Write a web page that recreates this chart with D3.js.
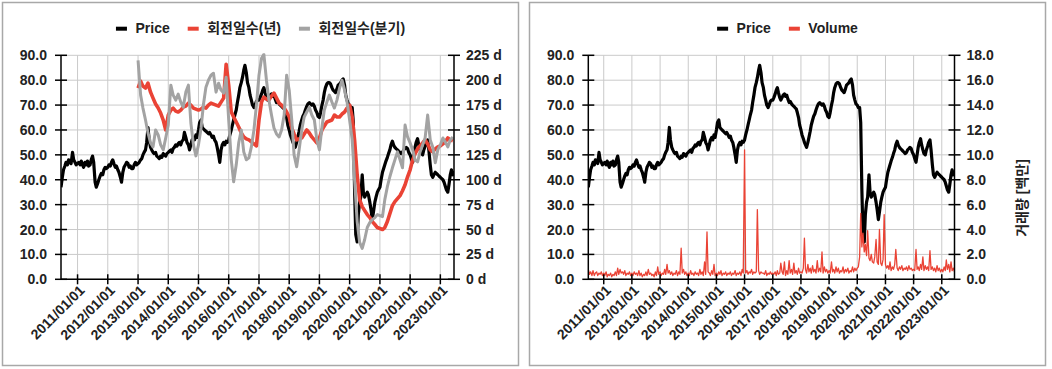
<!DOCTYPE html>
<html>
<head>
<meta charset="UTF-8">
<style>
  body { margin: 0; background: #fff; }
  svg { display: block; font-family: Arial, "Liberation Sans", "Noto Sans CJK KR", sans-serif; font-weight: bold; }
  .tick { font-size: 14px; fill: #222; }
  .legend text { font-size: 14px; fill: #222; }
</style>
</head>
<body>
<svg width="1052" height="369"></svg>
<script src="https://d3js.org/d3.v7.min.js"></script>
<script>
// ---- data ----
// price, twice a month (1st and 15th), 2010-06-15 .. 2023-06-15
const price = [
  37, 41, 44, 45.5, 47, 46, 48, 47, 46.5, 51, 48, 47, 46,                                          // 2010
  46.5, 47, 46, 47.5, 46, 45, 47, 46, 47.5, 45.5, 46, 48, 49.5, 47, 39, 37, 38.5, 40, 41.5, 42.5, 42, 44, 45, 44.5, // 2011
  45, 46, 45.5, 47, 48, 46.5, 45, 45.5, 44, 43, 41, 39, 43, 45, 46, 47, 46.5, 45, 45.5, 44.5, 44.5, 46, 47, 46,       // 2012
  46.5, 47, 48, 48.5, 50, 51, 52, 55, 61, 56, 53, 52, 51, 50.5, 51, 49.5, 49, 48.5, 49.5, 49, 50.5, 50, 49.5, 50.5,   // 2013
  51, 51.5, 52, 51, 52.5, 53, 54, 53.5, 54.5, 55, 54, 55.5, 56, 59, 57, 55, 54, 52, 54, 56, 57, 56, 58, 57,           // 2014
  60, 63, 64, 61, 60.5, 60, 59.5, 59, 58.5, 59, 58, 57, 57.5, 56, 55, 53, 50, 47, 52, 54, 55, 54, 55.5, 55,           // 2015
  56, 58, 60, 62, 64, 66, 68, 71, 74, 77, 79, 81, 84, 86, 83, 79, 77, 74, 72, 70, 69, 70, 71.5, 72,                   // 2016
  72, 73, 74.5, 76, 77, 75, 73, 72, 73, 74, 74.5, 73.5, 74, 72.5, 71, 71.5, 70.5, 70, 69.5, 69, 68.5, 67, 65, 62,     // 2017
  60, 58, 56.5, 55, 54, 53, 55, 57, 59.5, 62, 64, 65.5, 66.5, 68, 69.5, 70.5, 71, 70.5, 70, 70.5, 69.5, 68, 67, 65.5, // 2018
  65, 67, 70, 72, 75, 77, 78.5, 79, 79, 78.5, 77, 76, 75.5, 75, 76.5, 78, 78.5, 79, 80, 80.5, 78, 74, 72, 70.5,       // 2019
  70, 69, 69, 63, 36, 18, 15, 26, 31, 33, 42, 35, 33, 34, 35, 34, 31, 28, 24, 27, 31, 33, 35, 36,                     // 2020
  37, 40, 43, 44.5, 46, 47.5, 49, 50.5, 52, 54, 55.5, 54, 53, 52.5, 52, 51.5, 51, 50.5, 51, 52, 52.5, 53, 52.5, 51,   // 2021
  50, 48.5, 47, 50, 53, 55, 56.5, 54, 52, 50.5, 50, 52, 53.5, 55, 56, 52, 46, 42, 41, 42, 43, 42.5, 42, 41.5,         // 2022
  41, 40.5, 40, 39, 37.5, 36, 35, 38, 42, 44, 42, 43.5                                                                // 2023
];

// volume in millions, same dates as price
const volume = [
  0.8, 0.4, 0.6, 0.3, 0.7, 0.3, 0.5, 0.6, 0.3, 0.5, 0.4, 0.6, 0.3,
  0.5, 0.3, 0.6, 0.2, 0.4, 0.3, 0.5, 0.2, 0.4, 0.3, 0.6, 0.3, 0.9, 0.4, 0.8, 0.5, 0.6, 0.4, 0.7, 0.3, 0.5, 0.4, 0.6, 0.3,
  0.5, 0.3, 0.6, 0.4, 0.5, 0.3, 0.7, 0.3, 0.5, 0.2, 0.4, 0.3, 0.6, 0.3, 0.8, 0.4, 0.5, 0.3, 0.4, 0.2, 0.6, 0.3, 1.0, 0.4,
  0.6, 0.3, 0.5, 0.4, 0.8, 0.4, 1.2, 0.5, 0.7, 0.4, 0.6, 0.3, 0.5, 0.4, 0.7, 0.3, 0.6, 0.4, 2.5, 0.5, 0.8, 0.4, 0.6, 0.3,
  0.5, 0.3, 0.7, 0.4, 0.5, 0.3, 0.6, 0.4, 0.5, 0.3, 0.8, 0.4, 0.6, 0.3, 1.4, 0.4, 3.8, 0.6, 0.5, 0.3, 0.7, 0.4, 1.2, 0.3,
  0.5, 0.3, 0.6, 0.4, 0.7, 0.3, 0.5, 0.4, 0.6, 0.3, 0.5, 0.4, 0.6, 0.3, 0.5, 0.4, 0.7, 0.3, 0.5, 0.4, 0.6, 0.3, 0.8, 0.5,
  10.4, 0.5, 0.7, 0.4, 0.6, 0.5, 0.8, 0.4, 0.6, 0.5, 0.6, 5.6, 0.7, 0.4, 0.6, 0.5, 0.5, 0.4, 0.7, 0.3, 0.5, 0.4, 0.6, 0.4,
  0.5, 0.4, 0.6, 0.3, 0.7, 0.4, 0.5, 1.3, 0.6, 0.4, 1.4, 0.3, 0.7, 0.4, 1.5, 0.5, 0.8, 0.4, 1.3, 0.5, 0.7, 0.4, 0.9, 0.5,
  0.6, 0.5, 0.9, 3.3, 0.8, 0.5, 1.2, 0.6, 0.9, 0.5, 1.1, 0.6, 0.8, 0.5, 1.5, 0.6, 0.9, 0.6, 2.2, 0.5, 1.0, 0.6, 0.8, 0.5,
  0.7, 0.5, 1.4, 0.6, 0.8, 0.5, 1.0, 0.6, 0.9, 0.5, 0.7, 0.6, 1.0, 0.5, 0.8, 0.6, 0.9, 0.5, 0.7, 0.6, 1.0, 0.6, 0.9, 0.7,
  0.9, 1.0, 1.8, 5.3, 2.6, 3.7, 2.2, 2.8, 1.9, 3.9, 1.7, 1.5, 2.0, 1.4, 1.3, 1.8, 3.2, 1.4, 1.2, 4.0, 1.3, 1.1, 1.6, 5.2,
  1.2, 0.9, 1.1, 0.8, 1.4, 0.7, 1.0, 0.8, 1.2, 2.4, 0.9, 0.7, 1.0, 0.8, 1.1, 0.7, 0.9, 0.8, 1.0, 0.7, 1.1, 0.8, 0.9, 0.7,
  0.8, 0.7, 2.4, 0.8, 1.0, 0.7, 1.2, 0.8, 1.8, 0.7, 1.1, 0.8, 1.0, 0.7, 2.3, 0.8, 1.0, 0.7, 0.9, 0.6, 1.1, 0.7, 0.9, 0.6,
  0.8, 0.6, 1.0, 0.7, 1.55, 0.8, 1.2, 0.6, 1.4, 0.7, 0.9, 0.6
];

// turnover days, monthly 2013-01 .. 2023-06
const turnYear = [
  192, 199, 194, 192, 197, 188, 182, 176, 172, 167, 160, 150,
  165, 170, 172, 169, 168, 170, 173, 174, 177, 175, 172, 171,
  170, 171, 173, 172, 175, 177, 176, 175, 174, 178, 182, 216,
  195, 168, 163, 158, 153, 147, 143, 141, 140, 138, 136, 134,
  160, 178, 183, 181, 180, 184, 187, 182, 177, 175, 172, 168,
  163, 152, 146, 140, 141, 142, 146, 150, 147, 143, 140, 137,
  142, 150, 154, 158, 159, 160, 165, 163, 163, 166, 168, 172,
  175, 163, 140, 105, 80, 73, 69, 65, 62, 58, 55, 52,
  51, 50, 52, 58, 66, 74, 78, 81, 84, 89, 95, 103,
  110, 120, 126, 131, 134, 137, 140, 136, 130, 128, 131, 133,
  134, 136, 138, 142, 140, 139
];
const turnQuarter = [
  220, 185, 172, 160, 147, 137, 133, 150, 145, 135, 130, 142,
  155, 195, 185, 180, 186, 178, 173, 188, 195, 157, 135, 124,
  135, 152, 175, 193, 200, 205, 207, 188, 197, 190, 187, 203,
  160, 120, 98, 115, 137, 150, 128, 120, 122, 133, 150, 175,
  205, 222, 226, 200, 180, 165, 152, 146, 143, 150, 165, 205,
  190, 160, 125, 113, 130, 150, 163, 168, 173, 165, 160, 140,
  130, 153, 170, 178, 185, 178, 172, 180, 192, 200, 190, 178,
  160, 140, 100, 58, 37, 31, 40, 52, 57, 60, 62, 65,
  64, 63, 80, 93, 103, 112, 120, 128, 120, 112, 155, 143,
  137, 130, 120, 118, 128, 135, 142, 165, 140, 133, 117, 130,
  135, 142, 138, 133, 140, 143
];

const priceTicks = [0, 10, 20, 30, 40, 50, 60, 70, 80, 90];
const dayTicks = [0, 25, 50, 75, 100, 125, 150, 175, 200, 225];
const volTicks = [0, 2, 4, 6, 8, 10, 12, 14, 16, 18];
const yearTicks = d3.range(2011, 2024).map(y => new Date(y, 0, 1));
const legendLeft = ["Price", "회전일수(년)", "회전일수(분기)"];
const legendRight = ["Price", "Volume"];
const volumeTitle = "거래량 [백만]";

// ---- dates ----
const halfMonths = d3.timeMonth.range(new Date(2010, 5, 1), new Date(2023, 6, 1))
  .flatMap(m => [m, d3.timeDay.offset(m, 14)])
  .filter(d => d >= new Date(2010, 5, 15));
const months = d3.timeMonth.range(new Date(2013, 0, 1), new Date(2023, 6, 1));
const xDomain = [new Date(2010, 5, 15), new Date(2023, 5, 15)];

const BLACK = "#000", RED = "#ea4335", GRAY = "#a3a3a3";
const plotTop = 55.3, plotBottom = 279.3;

const svg = d3.select("svg");
const fmt1 = d3.format(".1f");
const fmtDate = d3.timeFormat("%Y/%m/%d");

function drawPanel(cfg) {
  const g = svg.append("g");
  g.append("rect")
    .attr("x", cfg.box[0]).attr("y", 2.5)
    .attr("width", cfg.box[1]).attr("height", 363)
    .attr("fill", "#fff").attr("stroke", "#a8a8a8").attr("stroke-width", 1.5);

  const x = d3.scaleTime().domain(xDomain).range([cfg.left, cfg.right]);
  const yL = d3.scaleLinear().domain([0, 90]).range([plotBottom, plotTop]);
  const yR = d3.scaleLinear().domain([0, d3.max(cfg.rightTicks)]).range([plotBottom, plotTop]);

  // grid
  g.append("g").selectAll("line").data(priceTicks).join("line")
    .attr("x1", cfg.left).attr("x2", cfg.right)
    .attr("y1", d => yL(d)).attr("y2", d => yL(d))
    .attr("stroke", "#cacaca").attr("stroke-width", 1);
  g.append("g").selectAll("line").data(yearTicks).join("line")
    .attr("x1", d => x(d)).attr("x2", d => x(d))
    .attr("y1", plotTop).attr("y2", plotBottom)
    .attr("stroke", "#cacaca").attr("stroke-width", 1);

  // series
  const clipId = "clip" + Math.round(cfg.left);
  g.append("clipPath").attr("id", clipId).append("rect")
    .attr("x", cfg.left).attr("y", plotTop - 2)
    .attr("width", cfg.right - cfg.left).attr("height", plotBottom - plotTop + 2);
  const lines = g.append("g").attr("clip-path", `url(#${clipId})`);
  cfg.series.forEach(s => {
    const y = s.axis === "left" ? yL : yR;
    const line = d3.line().x((d, i) => x(s.dates[i])).y(d => y(d));
    lines.append("path")
      .datum(s.values)
      .attr("d", line)
      .attr("fill", "none")
      .attr("stroke", s.color)
      .attr("stroke-width", s.width)
      .attr("stroke-linejoin", "round");
  });

  // axes lines
  const ax = g.append("g").attr("stroke", "#000").attr("stroke-width", 1.5);
  ax.append("line").attr("x1", cfg.left).attr("x2", cfg.left).attr("y1", plotTop).attr("y2", plotBottom);
  ax.append("line").attr("x1", cfg.right).attr("x2", cfg.right).attr("y1", plotTop).attr("y2", plotBottom);
  ax.append("line").attr("x1", cfg.left).attr("x2", cfg.right).attr("y1", plotBottom).attr("y2", plotBottom);
  ax.selectAll(".tl").data(priceTicks).join("line").attr("class", "tl")
    .attr("x1", cfg.left - 6).attr("x2", cfg.left + 6)
    .attr("y1", d => yL(d)).attr("y2", d => yL(d));
  ax.selectAll(".tr").data(cfg.rightTicks).join("line").attr("class", "tr")
    .attr("x1", cfg.right - 6).attr("x2", cfg.right + 6)
    .attr("y1", d => yR(d)).attr("y2", d => yR(d));
  ax.selectAll(".tx").data(yearTicks).join("line").attr("class", "tx")
    .attr("x1", d => x(d)).attr("x2", d => x(d))
    .attr("y1", plotBottom - 5).attr("y2", plotBottom + 5);

  // tick labels
  g.append("g").selectAll("text").data(priceTicks).join("text")
    .attr("class", "tick")
    .attr("x", cfg.left - 14).attr("y", d => yL(d))
    .attr("dy", "0.36em").attr("text-anchor", "end")
    .text(d => fmt1(d));
  g.append("g").selectAll("text").data(cfg.rightTicks).join("text")
    .attr("class", "tick")
    .attr("x", cfg.right + 12).attr("y", d => yR(d))
    .attr("dy", "0.36em")
    .text(cfg.rightFmt);
  g.append("g").selectAll("text").data(yearTicks).join("text")
    .attr("class", "tick")
    .attr("transform", d => `translate(${x(d) + 8},${plotBottom + 12}) rotate(-45)`)
    .attr("text-anchor", "end")
    .text(d => fmtDate(d));

  // legend
  const lg = g.append("g").attr("class", "legend");
  let pos = 0;
  cfg.legend.forEach((label, i) => {
    const item = lg.append("g").attr("transform", `translate(${pos},0)`);
    item.append("rect").attr("x", 0).attr("y", -1.3).attr("width", 11).attr("height", 4)
      .attr("fill", cfg.legendColors[i]);
    const t = item.append("text").attr("x", 19.5).attr("y", 5).text(label);
    pos += 19.5 + t.node().getComputedTextLength() + 18;
  });
  const total = pos - 18;
  const cx = cfg.box[0] + cfg.box[1] / 2;
  lg.attr("transform", `translate(${cx - total / 2},28)`);
  return g;
}

drawPanel({
  box: [2.5, 516], left: 61, right: 454,
  rightTicks: dayTicks, rightFmt: d => d + " d",
  legend: legendLeft, legendColors: [BLACK, RED, GRAY],
  series: [
    { values: price, dates: halfMonths, axis: "left", color: BLACK, width: 3.2 },
    { values: turnYear, dates: months, axis: "right", color: RED, width: 3.6 },
    { values: turnQuarter, dates: months, axis: "right", color: GRAY, width: 3 }
  ]
});

const right = drawPanel({
  box: [529.5, 516], left: 588.3, right: 954.5,
  rightTicks: volTicks, rightFmt: d => fmt1(d),
  legend: legendRight, legendColors: [BLACK, RED],
  series: [
    { values: price, dates: halfMonths, axis: "left", color: BLACK, width: 3.2 },
    { values: volume, dates: halfMonths, axis: "right", color: RED, width: 1.3 }
  ]
});

right.append("text")
  .attr("transform", "translate(1022,198) rotate(-90)")
  .attr("text-anchor", "middle")
  .attr("dy", "0.35em")
  .style("font-size", "14px")
  .attr("fill", "#222")
  .text(volumeTitle);
</script>
</body>
</html>
